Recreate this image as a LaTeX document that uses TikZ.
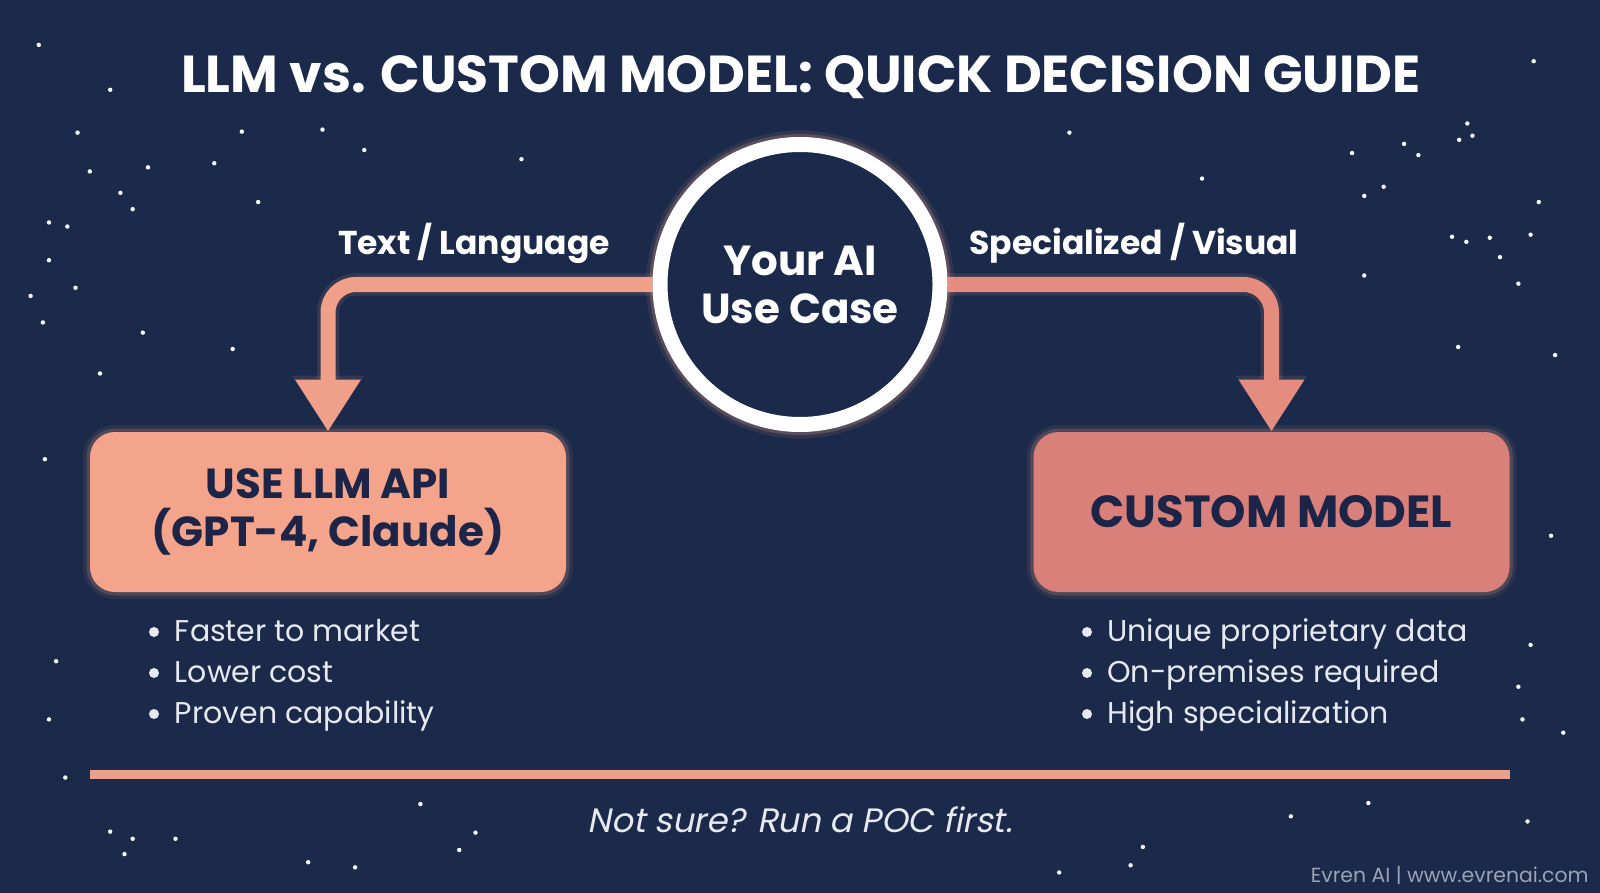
\documentclass[tikz,border=0pt]{standalone}
\usepackage{fontspec}
\setmainfont{Poppins}
\newfontfamily\slantfont[FakeSlant=0.2]{Poppins}
\usetikzlibrary{arrows.meta}
\definecolor{bg}{HTML}{1B2A4A}
\definecolor{navy}{HTML}{1C2547}
\definecolor{peach}{HTML}{F4A48B}
\definecolor{coral}{HTML}{D9807A}
\definecolor{arrowL}{HTML}{F0A088}
\definecolor{arrowR}{HTML}{E48D7F}
\definecolor{rulec}{HTML}{E9A08C}
\definecolor{soft}{HTML}{E6EAF0}
\definecolor{foot}{HTML}{9AA3B5}
\pgfdeclarelayer{backdrop}
\pgfdeclarelayer{bglayer}
\pgfsetlayers{backdrop,bglayer,main}
\tikzset{
  titletext/.style={text=white, font=\fontsize{26}{30}\selectfont\bfseries, inner sep=0pt},
  hubnode/.style={circle, minimum size=140pt, inner sep=0pt, draw=white, line width=7.5pt, fill=bg,
    text=white, align=center, font=\fontsize{21}{24}\selectfont\bfseries,
    preaction={draw=peach, line width=14pt, draw opacity=0.10},
    preaction={draw=peach, line width=10.5pt, draw opacity=0.22}},
  branchlabel/.style={text=white, font=\fontsize{16.5}{20}\selectfont\bfseries, inner sep=0pt},
  boxnode/.style={rounded corners=12.5pt, minimum width=238pt, minimum height=80pt, inner sep=0pt,
    text=navy, align=center, font=\fontsize{22.5}{24}\selectfont\bfseries,
    preaction={draw=peach, line width=7pt, draw opacity=0.08},
    preaction={draw=peach, line width=3.5pt, draw opacity=0.18}},
  bullettext/.style={text=soft, font=\fontsize{15}{18}\selectfont, inner sep=0pt, anchor=base west},
  bulletdot/.style={fill=soft, draw=none},
  connector/.style={line width=7.5pt, rounded corners=14pt,
    -{Triangle[width=31pt, length=26pt]},
    preaction={draw=peach, line width=11pt, draw opacity=0.12, -{Triangle[width=34pt, length=28pt]}}},
  star/.style={fill=white, draw=none}
}
\begin{document}
\begin{tikzpicture}[x=0.5pt, y=-0.5pt]
\begin{pgfonlayer}{backdrop}
\fill[bg] (0,0) rectangle (1600,893);
\end{pgfonlayer}
\useasboundingbox (0,0) rectangle (1600,893);

% stars
\foreach \sx/\sy in {38/44,108/88,76/130,237/129,316/127,357/147,88/168,145/164,210/160,118/189,130/205,253/198,
  48/218,66/222,48/255,74/282,30/290,42/316,140/326,228/342,98/366,511/156,1048/130,1178/175,1325/150,1376/141,
  1390/152,1438/121,1430/137,1443/133,1503/60,1356/183,1337/192,1508/198,1423/232,1437/237,1460/233,1500/230,
  1470/252,1488/278,1337/270,1429/340,1524/348,44/450,1520/525,55/648,48/705,1500/632,1488/673,1492/705,1532/718,
  64/762,412/788,108/815,130/822,172/822,122/837,466/816,450/833,302/845,348/850,1265/800,1341/787,1497/805,
  1120/830,1108/848,1038/855}
  \fill[star] ({\sx*1.0204},{\sy*1.0204}) circle (1.1pt);

% title
\node[titletext, anchor=base] (title) at (801,93) {LLM vs. CUSTOM MODEL: QUICK DECISION GUIDE};

% hub
\node[hubnode] (hub) at (800,284.5) {Your AI\\Use Case};

% boxes
\node[boxnode, fill=peach, font=\fontsize{21}{24}\selectfont\bfseries] (llm) at (328,512) {USE LLM API\\(GPT-4, Claude)};
\node[boxnode, fill=coral] (custom) at (1271.5,512) {CUSTOM MODEL};

% connectors
\begin{pgfonlayer}{bglayer}
\draw[connector, draw=arrowL] (hub.west) -| (llm.north);
\draw[connector, draw=arrowR] (hub.east) -| (custom.north);
\end{pgfonlayer}

% branch labels
\node[branchlabel, anchor=base] (lblL) at (474,255) {Text / Language};
\node[branchlabel, anchor=base] (lblR) at (1134,255) {Specialized / Visual};

% bullets
\foreach \by in {641,682,723} {
  \fill[bulletdot] (154,\by-9) circle (2.5pt);
  \fill[bulletdot] (1087,\by-9) circle (2.5pt);
}
\node[bullettext] (l1) at (174.5,641) {Faster to market};
\node[bullettext] (l2) at (174.5,682) {Lower cost};
\node[bullettext] (l3) at (174.5,723) {Proven capability};
\node[bullettext] (r1) at (1107,641) {Unique proprietary data};
\node[bullettext] (r2) at (1107,682) {On-premises required};
\node[bullettext] (r3) at (1107,723) {High specialization};

% rule
\draw[rulec, line width=4.5pt] (90,774.5) -- (1510,774.5);

% bottom note
\node[text=soft, font=\slantfont\fontsize{16.9}{19}\selectfont, inner sep=0pt, anchor=base] (note) at (800,832) {Not sure? Run a POC first.};

% footer
\node[text=foot, font=\fontsize{10.2}{12}\selectfont, inner sep=0pt, anchor=base east] (foot) at (1589,882) {Evren AI | www.evrenai.com};
\end{tikzpicture}
\end{document}
